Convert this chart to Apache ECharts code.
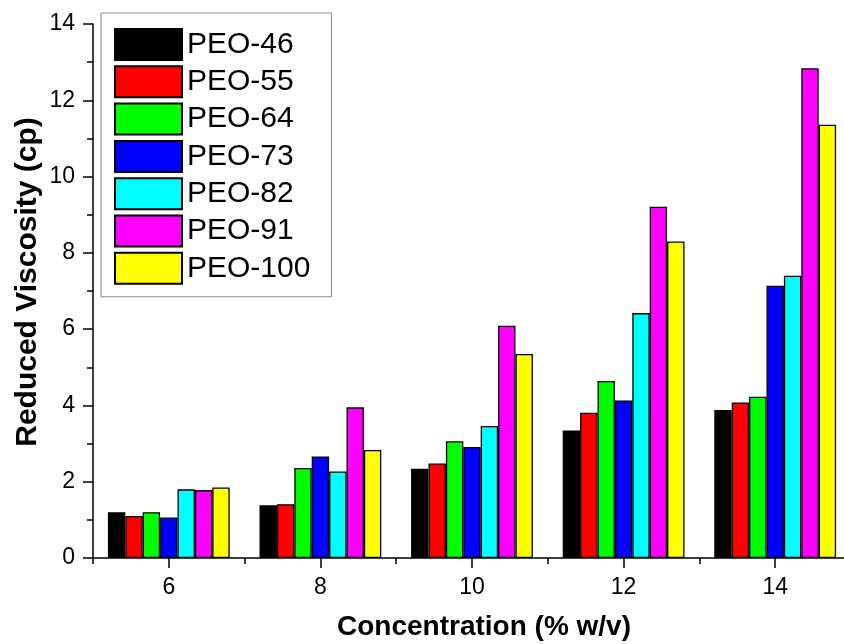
<!DOCTYPE html>
<html>
<head>
<meta charset="utf-8">
<script src="https://cdn.jsdelivr.net/npm/echarts@6/dist/echarts.min.js"></script>
<style>html,body{margin:0;padding:0;background:#fff}#c{width:844px;height:644px}</style>
</head>
<body>
<div id="c"></div>
<script>
const concentrations = [6, 8, 10, 12, 14];
const seriesNames = ['PEO-46', 'PEO-55', 'PEO-64', 'PEO-73', 'PEO-82', 'PEO-91', 'PEO-100'];
const seriesColors = ['#000000', '#ff0000', '#00ff00', '#0000ff', '#00ffff', '#ff00ff', '#ffff00'];
const peo46 = [1.20, 1.38, 2.34, 3.34, 3.88];
const peo55 = [1.10, 1.41, 2.48, 3.81, 4.08];
const peo64 = [1.20, 2.36, 3.06, 4.64, 4.23];
const peo73 = [1.06, 2.66, 2.91, 4.13, 7.14];
const peo82 = [1.80, 2.27, 3.46, 6.42, 7.40];
const peo91 = [1.78, 3.95, 6.09, 9.21, 12.84];
const peo100 = [1.85, 2.83, 5.35, 8.30, 11.36];
const yTicks = [0, 2, 4, 6, 8, 10, 12, 14];
const xMajorTicks = [6, 8, 10, 12, 14];
const xMinorTicks = [5, 7, 9, 11, 13, 15];

const allValues = [peo46, peo55, peo64, peo73, peo82, peo91, peo100];
const font = "'Liberation Sans', Arial, sans-serif";

const chart = echarts.init(document.getElementById('c'), null, {renderer: 'canvas'});
chart.setOption({
  animation: false,
  backgroundColor: '#ffffff',
  grid: {left: 93, top: 24, width: 758, height: 534, containLabel: false, outerBoundsMode: 'none'},
  legend: {
    orient: 'vertical', left: 101, top: 13,
    padding: [15, 21, 12, 13],
    itemWidth: 67, itemHeight: 31, itemGap: 4.3,
    borderColor: '#8a8a8a', borderWidth: 1,
    icon: 'rect',
    textStyle: {fontFamily: font, fontSize: 30, color: '#000', padding: [0, 0, 0, 0]},
    data: seriesNames
  },
  xAxis: [{
    type: 'value', min: 5, max: 15, position: 'bottom',
    splitLine: {show: false},
    axisLine: {lineStyle: {color: '#000', width: 1.5}},
    axisTick: {show: true, customValues: xMajorTicks, length: 10, lineStyle: {color: '#000', width: 1.5}},
    axisLabel: {customValues: xMajorTicks, fontFamily: font, fontSize: 23, color: '#000', margin: 18},
    name: 'Concentration (% w/v)', nameLocation: 'middle', nameGap: 55, nameMoveOverlap: false,
    nameTextStyle: {fontFamily: font, fontSize: 28, fontWeight: 'bold', color: '#000', padding: [0, 0, 0, 24]}
  }, {
    type: 'value', min: 5, max: 15, position: 'bottom', offset: 0,
    splitLine: {show: false},
    axisLine: {show: false},
    axisTick: {show: true, customValues: xMinorTicks, length: 6, lineStyle: {color: '#000', width: 1.5}},
    axisLabel: {show: false}
  }],
  yAxis: {
    type: 'value', min: 0, max: 14, interval: 2,
    splitLine: {show: false},
    axisLine: {show: true, lineStyle: {color: '#000', width: 1.5}},
    axisTick: {show: true, length: 10, lineStyle: {color: '#000', width: 1.5}},
    minorTick: {show: true, splitNumber: 2, length: 6, lineStyle: {color: '#000', width: 1.5}},
    axisLabel: {fontFamily: font, fontSize: 23, color: '#000', margin: 18,
      formatter: v => (yTicks.indexOf(v) >= 0 ? String(v) : '')},
    name: 'Reduced Viscosity (cp)', nameLocation: 'middle', nameGap: 50, nameMoveOverlap: false,
    nameTextStyle: {fontFamily: font, fontSize: 30, fontWeight: 'bold', color: '#000', padding: [0, 0, 0, 18]}
  },
  series: seriesNames.map((name, i) => ({
    name: name, type: 'bar', xAxisIndex: 0,
    barWidth: 17.4, barGap: '0%',
    itemStyle: {color: seriesColors[i], borderColor: '#000', borderWidth: 1.3},
    data: concentrations.map((c, j) => [c, allValues[i][j]])
  }))
});
</script>
</body>
</html>
